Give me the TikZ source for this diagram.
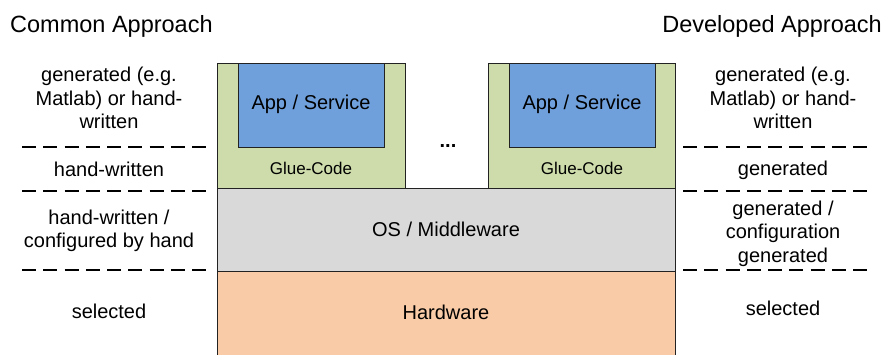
\documentclass[tikz,border=0pt]{standalone}
\usepackage{fontspec}
\setmainfont{Liberation Sans}
\definecolor{gluegreen}{HTML}{CDDCAA}
\definecolor{appblue}{HTML}{6FA0DC}
\definecolor{osgray}{HTML}{D9D9D9}
\definecolor{hworange}{HTML}{F9CBA6}
\definecolor{edge}{HTML}{222222}
\begin{document}
\begin{tikzpicture}[x=1pt,y=-1pt,
  box/.style={draw=edge, line width=1.2pt, inner sep=0pt, anchor=north west},
  sep/.style={line width=2pt, dash pattern=on 14pt off 7.25pt},
  lbl/.style={font=\fontsize{20}{23.5}\selectfont, align=center, inner sep=0pt},
  small/.style={font=\fontsize{17}{20}\selectfont, inner sep=0pt},
  ttl/.style={font=\fontsize{23.5}{27}\selectfont, inner sep=0pt}]
\useasboundingbox (0,0) rectangle (885,354);
\fill[white] (0,0) rectangle (885,354);
% stack
\node[box, fill=hworange, minimum width=458pt, minimum height=90pt] (hw) at (217,271) {};
\node[box, fill=osgray, minimum width=458pt, minimum height=83pt] (os) at (217,188) {};
\node[box, fill=gluegreen, minimum width=188pt, minimum height=125pt] (glueL) at (217,63) {};
\node[box, fill=gluegreen, minimum width=187pt, minimum height=125pt] (glueR) at (488,63) {};
\node[box, fill=appblue, minimum width=146pt, minimum height=84pt] (appL) at (238,63) {};
\node[box, fill=appblue, minimum width=146pt, minimum height=84pt] (appR) at (509,63) {};
% texts in stack
\node[lbl] (appLt) at (311,104) {App / Service};
\node[lbl] (appRt) at (582,104) {App / Service};
\node[small] (glueLt) at (311,168) {Glue-Code};
\node[small] (glueRt) at (582,168) {Glue-Code};
\node[lbl, font=\fontsize{20}{23.5}\selectfont\bfseries] (dots) at (448,146.3) {...};
\node[lbl] (ost) at (446,229) {OS / Middleware};
\node[lbl] (hwt) at (446,312) {Hardware};
% titles
\node[ttl, anchor=base west] (tl) at (10,32) {Common Approach};
\node[ttl, anchor=base east] (tr) at (882,32) {Developed Approach};
% separators
\foreach \yy in {147,191,270}{
  \draw[sep] (22,\yy) -- (209,\yy);
  \draw[sep] (683,\yy) -- (868,\yy);
}
% left labels
\node[lbl] (l1) at (109,98) {generated (e.g.\\Matlab) or hand-\\written};
\node[lbl] (l2) at (109,169) {hand-written};
\node[lbl] (l3) at (109,231) {hand-written /\\configured by hand};
\node[lbl] (l4) at (109,311) {selected};
% right labels
\node[lbl] (r1) at (783,98) {generated (e.g.\\Matlab) or hand-\\written};
\node[lbl] (r2) at (783,170.7) {generated};
\node[lbl] (r3) at (783,233.5) {generated /\\configuration\\generated};
\node[lbl] (r4) at (783,308) {selected};
\end{tikzpicture}
\end{document}
